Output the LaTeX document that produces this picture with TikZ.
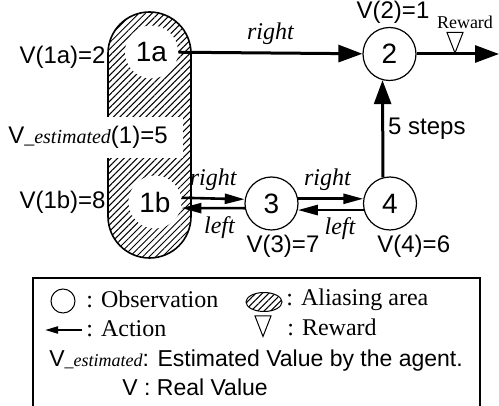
\documentclass[tikz,border=0pt]{standalone}
\usepackage{fontspec}
\setmainfont{Liberation Sans}
\newfontfamily\tms{Liberation Serif}
\usetikzlibrary{arrows.meta,patterns.meta}

\tikzset{
  state/.style={circle, draw, line width=0.6pt, minimum size=26.5pt, inner sep=0pt, font=\fontsize{14}{14}\selectfont},
  hidden/.style={state, draw=none, fill=white},
  bigarrow/.style={line width=1.5pt, -{Triangle[length=12pt,width=8.5pt]}},
  smallarrow/.style={line width=1.3pt, -{Triangle[length=10pt,width=5pt]}},
  act/.style={font=\tms\itshape\fontsize{12}{12}\selectfont},
  legend/.style={anchor=west, inner sep=0pt, font=\tms\fontsize{12}{12}\selectfont},
  note/.style={anchor=west, inner sep=0pt, font=\fontsize{11.5}{12}\selectfont},
  aliasing/.style={pattern={Lines[angle=45,distance=2.3pt,line width=0.5pt]}},
  rewardmark/.pic={\draw[line width=0.5pt, fill=white] (-8,-10) -- (8,-10) -- (0,10.5) -- cycle;}
}
\newcommand{\estsub}[1]{{\tms\itshape\fontsize{#1}{#1}\selectfont\_estimated}}

\begin{document}
\begin{tikzpicture}[x=0.5pt, y=-0.5pt, font=\fontsize{12}{14}\selectfont]
  \useasboundingbox (0,0) rectangle (499,406);
  % aliasing area
  \draw[aliasing, line width=0.8pt, rounded corners=20.75pt] (108,12) rectangle (191,258);
  \node[hidden] (1a) at (151.5,52) {1a};
  \node[hidden] (1b) at (155,202) {1b};
  \node[fill=white, inner xsep=7.75pt, inner ysep=4.5pt] (vest) at (88,137.5) {V\estsub{10}(1)=5};
  \node[state] (2) at (389.5,54) {2};
  \node[state] (3) at (271.5,203.5) {3};
  \node[state] (4) at (390,203.5) {4};
  \coordinate (exit) at (499,54);
  % values
  \node[anchor=east, inner sep=0pt] (v1a) at (106,57) {V(1a)=2};
  \node[anchor=east, inner sep=0pt] (v1b) at (106,202) {V(1b)=8};
  \node (v2) at (393,12.5) {V(2)=1};
  \node (v3) at (283,246) {V(3)=7};
  \node[anchor=west, inner sep=0pt] (v4) at (377,246) {V(4)=6};
  % actions
  \draw[bigarrow] (1a) -- node[act, above] {right} (2);
  \draw[bigarrow] (2) -- (exit);
  \draw[bigarrow] (4.105) -- node[anchor=west, inner sep=0pt, xshift=2pt] {5 steps} (2.255);
  \draw[smallarrow] (1b.9) -- node[act, above] {right} (3.171);
  \draw[smallarrow] (3.190) -- node[act, below, pos=0.4] {left} (1b.-13);
  \draw[smallarrow] (3.10) -- node[act, above, pos=0.45] {right} (4.170);
  \draw[smallarrow] (4.194) -- node[act, below, pos=0.36] {left} (3.-14);
  % reward
  \pic at (455,42.5) {rewardmark};
  \node[font=\tms\fontsize{9}{9}\selectfont] (rw) at (465,22) {Reward};
  % legend
  \draw[line width=0.6pt] (33,412) -- (33,278) -- (480,278) -- (480,412);
  \node[circle, draw, line width=0.5pt, minimum size=12pt, inner sep=0pt] (obs) at (63,301) {};
  \node[legend] (obstext) at (86,299) {: Observation};
  \coordinate (acttail) at (82,330);
  \coordinate (acttip) at (45,330);
  \draw[line width=1pt, -{Triangle[length=6.5pt,width=3.5pt]}] (acttail) -- (acttip);
  \node[legend] (acttext) at (86,329) {: Action};
  \draw[aliasing, line width=0.5pt] (264,302) ellipse [x radius=9pt, y radius=4.75pt];
  \node[legend] (alitext) at (286,300) {: Aliasing area};
  \pic at (263,326) {rewardmark};
  \node[legend] (rwtext) at (287,327) {: Reward};
  \node[note] (esttext) at (49,361) {V\estsub{9}: Estimated Value by the agent.};
  \node[note] (realtext) at (122,387) {V : Real Value};
\end{tikzpicture}
\end{document}
